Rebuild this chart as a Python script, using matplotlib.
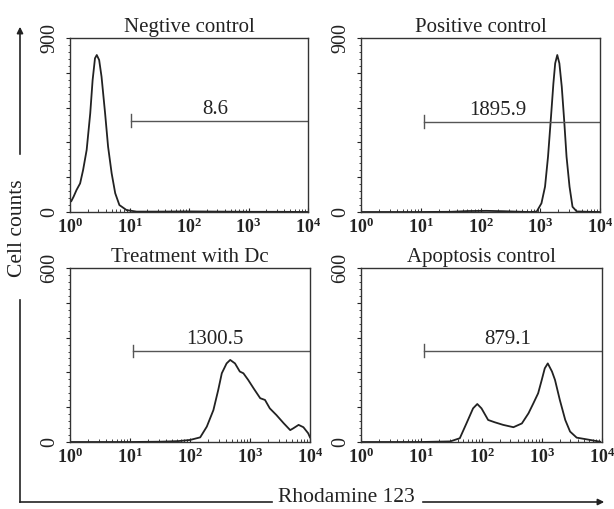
import numpy as np
import matplotlib
matplotlib.use("Agg")
import matplotlib.pyplot as plt
import matplotlib.ticker as mticker
from matplotlib.lines import Line2D
from matplotlib.patches import FancyArrowPatch

plt.rcParams['font.family'] = 'Liberation Serif'
plt.rcParams['mathtext.fontset'] = 'custom'
plt.rcParams['mathtext.rm'] = 'Liberation Serif'
plt.rcParams['mathtext.bf'] = 'Liberation Serif:bold'

# histogram traces, x given as log10 of Rhodamine 123 intensity
neg_log = [0, 0.02, 0.06, 0.11, 0.17, 0.22, 0.28, 0.34, 0.38, 0.42, 0.45, 0.49, 0.53,
           0.59, 0.64, 0.70, 0.76, 0.83, 0.95, 1.12, 1.5, 2.0, 2.5, 3.0, 3.5, 4.0]
neg_cnt = [67, 55, 79, 114, 148, 217, 321, 510, 682, 795, 812, 786, 700,
           510, 338, 200, 97, 36, 10, 2, 2, 3, 2, 1, 1, 0]

pos_log = [0, 1.0, 1.5, 1.8, 2.1, 2.4, 2.7, 2.83, 2.94, 3.02, 3.08, 3.13, 3.18,
           3.22, 3.25, 3.285, 3.32, 3.36, 3.40, 3.44, 3.49, 3.54, 3.61, 3.8, 4.0]
pos_cnt = [0, 0, 1, 5, 6, 4, 1, 0, 2, 45, 131, 286, 493,
           665, 769, 812, 769, 648, 476, 286, 131, 27, 3, 1, 0]

dc_log = [0, 1.0, 1.5, 1.8, 2.0, 2.17, 2.28, 2.39, 2.47, 2.53, 2.61, 2.67, 2.75,
          2.83, 2.89, 2.97, 3.06, 3.17, 3.25, 3.33, 3.44, 3.56, 3.67, 3.72,
          3.81, 3.89, 3.97, 4.0]
dc_cnt = [0, 0, 1, 3, 7, 16, 53, 110, 179, 237, 271, 283, 271,
          243, 237, 214, 185, 151, 145, 116, 93, 65, 41, 47,
          59, 51, 30, 16]

apo_log = [0, 1.0, 1.48, 1.64, 1.75, 1.86, 1.93, 2.0, 2.11, 2.22, 2.36, 2.53,
           2.67, 2.78, 2.86, 2.94, 3.0, 3.05, 3.10, 3.17, 3.22, 3.30, 3.39,
           3.47, 3.58, 3.75, 3.97]
apo_cnt = [0, 0, 2, 13, 64, 116, 131, 116, 76, 68, 59, 51,
           64, 99, 133, 168, 214, 254, 271, 243, 214, 145, 76,
           36, 15, 9, 1]

titles = ['Negtive control', 'Positive control', 'Treatment with Dc', 'Apoptosis control']
ymax = [900, 900, 600, 600]
gate_lo = [10.6, 11.3, 11.2, 11.3]
gate_y = [472, 467, 314, 315]
gate_text = ['8.6', '1895.9', '1300.5', '879.1']
text_x = [275, 195, 263, 269]
xtick_vals = [1, 10, 100, 1000, 10000]
xtick_labels = [r'$\mathbf{10^{0}}$', r'$\mathbf{10^{1}}$', r'$\mathbf{10^{2}}$',
                r'$\mathbf{10^{3}}$', r'$\mathbf{10^{4}}$']

traces = [(neg_log, neg_cnt), (pos_log, pos_cnt), (dc_log, dc_cnt), (apo_log, apo_cnt)]

W, H = 614, 509
fig = plt.figure(figsize=(W / 100, H / 100), dpi=100)
fig.patch.set_facecolor('white')

# axes boxes in pixels: left, top, right, bottom
boxes = [(70, 38, 308, 212), (361, 38, 600, 212),
         (70, 268, 310, 442), (361, 268, 602, 442)]

ink = '#222222'
for i, (l, t, r, b) in enumerate(boxes):
    ax = fig.add_axes([l / W, 1 - b / H, (r - l) / W, (b - t) / H])
    lg, cnt = traces[i]
    ax.plot(10 ** np.array(lg), cnt, color=ink, lw=1.3)
    ax.set_xscale('log')
    ax.set_xlim(1, 10000)
    ax.set_ylim(0, ymax[i])
    ax.set_xticks(xtick_vals)
    ax.set_xticklabels(xtick_labels, fontsize=13)
    ax.xaxis.set_minor_formatter(mticker.NullFormatter())
    ax.xaxis.set_minor_locator(mticker.LogLocator(base=10, subs=np.arange(2, 10)))
    ylab = ['0', '', '', '', '', str(ymax[i])]
    ax.set_yticks(np.linspace(0, ymax[i], 6))
    ax.set_yticklabels(ylab, rotation=90, fontsize=14.5, va='center')
    ax.yaxis.set_minor_locator(mticker.MultipleLocator(ymax[i] / 25))
    ax.tick_params(axis='x', which='major', direction='in', length=3, width=0.8,
                   pad=4, colors=ink)
    ax.tick_params(axis='x', which='minor', direction='in', length=2, width=0.6,
                   colors=ink)
    ax.tick_params(axis='y', which='major', direction='out', length=3, width=0.8,
                   pad=5, colors=ink)
    ax.tick_params(axis='y', which='minor', direction='out', length=1.5, width=0.6,
                   colors=ink)
    for sp in ax.spines.values():
        sp.set_linewidth(1.0)
        sp.set_color('#333333')
    ax.set_title(titles[i], fontsize=15, pad=4, color=ink)

    # marker gate
    cap = ymax[i] * 0.037
    ax.plot([gate_lo[i], 10000], [gate_y[i], gate_y[i]], color='#555555', lw=1.0)
    ax.plot([gate_lo[i], gate_lo[i]], [gate_y[i] - cap, gate_y[i] + cap],
            color='#555555', lw=1.0)
    ax.text(text_x[i], gate_y[i] + ymax[i] * 0.012, gate_text[i], fontsize=15,
            ha='center', va='bottom', color=ink)

# overall axis arrows
def px(x, y):
    return (x / W, 1 - y / H)

line_kw = dict(color=ink, lw=1.2)
fig.add_artist(Line2D([20 / W, 20 / W], [1 - 502 / H, 1 - 300 / H],
                      transform=fig.transFigure, **line_kw))
fig.add_artist(FancyArrowPatch(px(20, 157), px(20, 24), transform=fig.transFigure,
                               arrowstyle='-|>', mutation_scale=9, **line_kw))
fig.add_artist(Line2D([20 / W, 272 / W], [1 - 502 / H, 1 - 502 / H],
                      transform=fig.transFigure, **line_kw))
fig.add_artist(FancyArrowPatch(px(420, 502), px(607, 502), transform=fig.transFigure,
                               arrowstyle='-|>', mutation_scale=9, **line_kw))
fig.text(18 / W, 1 - 228 / H, 'Cell counts', rotation=90, fontsize=15.5,
         ha='center', va='center', color=ink)
fig.text(346 / W, 1 - 498 / H, 'Rhodamine 123', fontsize=15.5,
         ha='center', va='center', color=ink)

fig.savefig('out.png', dpi=100, facecolor='white')
